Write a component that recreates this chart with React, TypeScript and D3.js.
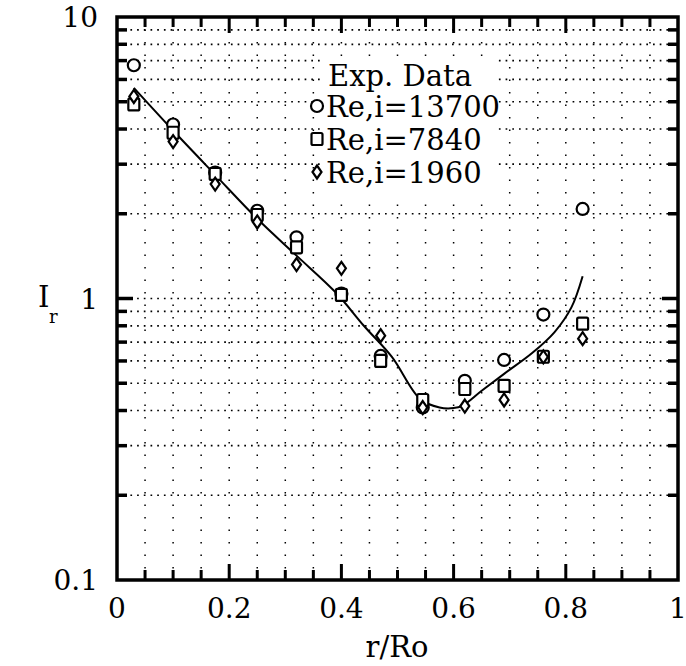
import React from "react";
import * as d3 from "d3";

const rPositions = [0.03, 0.1, 0.175, 0.25, 0.32, 0.4, 0.47, 0.545, 0.62, 0.69, 0.76, 0.83];
const re13700 = [6.74, 4.15, 2.8, 2.05, 1.65, 1.04, 0.625, 0.41, 0.51, 0.605, 0.877, 2.08];
const re7840 = [4.89, 3.88, 2.77, 1.98, 1.52, 1.03, 0.6, 0.436, 0.477, 0.489, 0.621, 0.814];
const re1960 = [5.22, 3.61, 2.55, 1.87, 1.32, 1.28, 0.738, 0.41, 0.415, 0.436, 0.62, 0.72];

const fitX = [0.03, 0.1, 0.175, 0.25, 0.32, 0.39, 0.44, 0.49, 0.54, 0.575, 0.6, 0.615, 0.65, 0.69, 0.74, 0.78, 0.81, 0.83];
const fitY = [5.6, 3.95, 2.75, 1.92, 1.42, 1.05, 0.8, 0.62, 0.44, 0.41, 0.408, 0.415, 0.47, 0.54, 0.64, 0.76, 0.93, 1.2];

const xTickLabels = ["0", "0.2", "0.4", "0.6", "0.8", "1"];
const xTickValues = [0, 0.2, 0.4, 0.6, 0.8, 1];
const yTickLabels = ["0.1", "1", "10"];
const yTickValues = [0.1, 1, 10];
const legendLabels = ["Re,i=13700", "Re,i=7840", "Re,i=1960"];

const FONT = "'DejaVu Serif', serif";

export default function App() {
  const x = d3.scaleLinear().domain([0, 1]).range([117, 678]);
  const y = d3.scaleLog().domain([0.1, 10]).range([580, 17]);

  const minorY: number[] = [];
  [0.1, 1].forEach((d) => {
    for (let k = 2; k <= 9; k++) minorY.push(d * k);
  });
  const gridY = [...minorY, 1];
  const xMinor = d3.range(1, 20).map((i) => i * 0.05);

  const line = d3
    .line<number>()
    .x((_, i) => x(fitX[i]))
    .y((d) => y(d))
    .curve(d3.curveCatmullRom.alpha(0.5));

  const circle = (cx: number, cy: number, key: string) => (
    <circle key={key} cx={cx} cy={cy} r={6} fill="white" stroke="black" strokeWidth={2.2} />
  );
  const square = (cx: number, cy: number, key: string) => (
    <rect key={key} x={cx - 5.5} y={cy - 6} width={11} height={12} rx={1.5} fill="white" stroke="black" strokeWidth={2.2} />
  );
  const diamond = (cx: number, cy: number, key: string) => (
    <path key={key} d={`M${cx},${cy - 6.5}L${cx + 4.5},${cy}L${cx},${cy + 6.5}L${cx - 4.5},${cy}Z`} fill="white" stroke="black" strokeWidth={2.2} />
  );

  const legendX = 317;
  const legendRows = [106, 139, 172];

  return (
    <svg width={686} height={666} style={{ position: "absolute", left: 0, top: 0, background: "white" }}>
      <rect x={0} y={0} width={686} height={666} fill="white" />
      {/* grid */}
      {gridY.map((v, i) => (
        <line key={"gy" + i} x1={x(0)} x2={x(1)} y1={y(v)} y2={y(v)} stroke="black" strokeWidth={1.7} strokeDasharray="1.7,5" />
      ))}
      {xMinor.map((v, i) => (
        <line key={"gx" + i} x1={x(v)} x2={x(v)} y1={y(10)} y2={y(0.1)} stroke="black" strokeWidth={1.5} strokeDasharray="1.5,11" />
      ))}
      {/* ticks left/right */}
      {gridY.map((v, i) => {
        const major = v === 1;
        return (
          <g key={"ty" + i}>
            <line x1={x(0)} x2={x(0) + (major ? 16 : 10)} y1={y(v)} y2={y(v)} stroke="black" strokeWidth={3.5} />
            <line x1={x(1)} x2={x(1) - (major ? 16 : 10)} y1={y(v)} y2={y(v)} stroke="black" strokeWidth={3.5} />
          </g>
        );
      })}
      {/* ticks top/bottom */}
      {xMinor.map((v, i) => {
        const major = Math.abs((v * 10) % 2) < 1e-6 || Math.abs((v * 10) % 2 - 2) < 1e-6;
        return (
          <g key={"tx" + i}>
            <line x1={x(v)} x2={x(v)} y1={y(0.1)} y2={y(0.1) - (major ? 16 : 10)} stroke="black" strokeWidth={3} />
            <line x1={x(v)} x2={x(v)} y1={y(10)} y2={y(10) + (major ? 16 : 10)} stroke="black" strokeWidth={3} />
          </g>
        );
      })}
      {/* frame */}
      <rect x={x(0)} y={y(10)} width={x(1) - x(0)} height={y(0.1) - y(10)} fill="none" stroke="black" strokeWidth={3.5} />

      {/* fit curve */}
      <path d={line(fitY) || ""} fill="none" stroke="black" strokeWidth={2} />

      {/* data */}
      {re13700.map((v, i) => circle(x(rPositions[i]), y(v), "c" + i))}
      {re7840.map((v, i) => square(x(rPositions[i]), y(v), "s" + i))}
      {re1960.map((v, i) => diamond(x(rPositions[i]), y(v), "d" + i))}

      {/* legend */}
      <rect x={322} y={56} width={172} height={138} fill="white" />
      <text x={400} y={86} fontFamily={FONT} fontSize={29} textAnchor="middle">Exp. Data</text>
      {circle(legendX, legendRows[0], "lc")}
      {square(legendX, legendRows[1], "ls")}
      {diamond(legendX, legendRows[2], "ld")}
      {legendLabels.map((t, i) => (
        <text key={"lt" + i} x={326} y={legendRows[i] + 11} fontFamily={FONT} fontSize={29}>{t}</text>
      ))}

      {/* axis labels */}
      {xTickValues.map((v, i) => (
        <text key={"xl" + i} x={x(v)} y={618} fontFamily={FONT} fontSize={28} textAnchor="middle">{xTickLabels[i]}</text>
      ))}
      {yTickValues.map((v, i) => (
        <text key={"yl" + i} x={98} y={y(v) + 10} fontFamily={FONT} fontSize={28} textAnchor="end">{yTickLabels[i]}</text>
      ))}
      <text x={397} y={657} fontFamily={FONT} fontSize={29} textAnchor="middle">r/Ro</text>
      <text x={38} y={307} fontFamily={FONT} fontSize={29}>I</text>
      <text x={49} y={323} fontFamily={FONT} fontSize={18}>r</text>
    </svg>
  );
}
